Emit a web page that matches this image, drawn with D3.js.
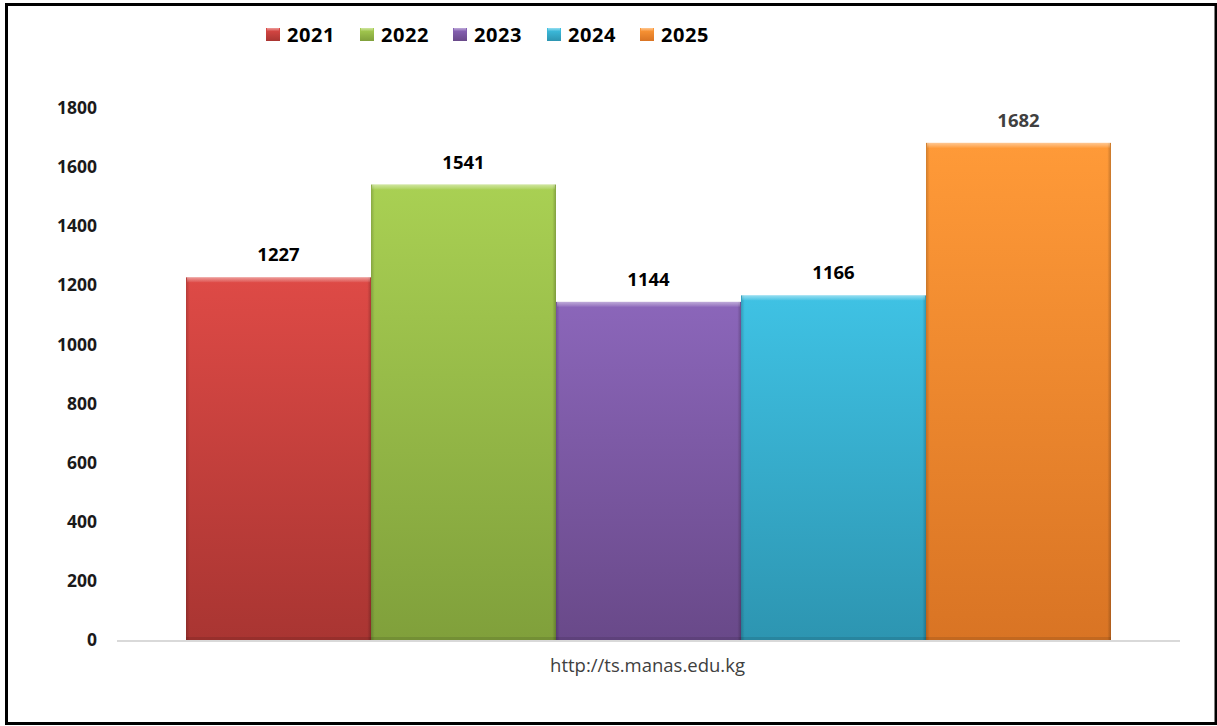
<!DOCTYPE html>
<html>
<head>
<meta charset="utf-8">
<script src="https://cdn.jsdelivr.net/npm/d3@7"></script>
<style>
  html, body { margin: 0; padding: 0; background: #fff; }
  svg { display: block; }
</style>
</head>
<body>
<svg id="chart" width="1217" height="726"></svg>
<script>
const years = ["2021", "2022", "2023", "2024", "2025"];
const values = [1227, 1541, 1144, 1166, 1682];
const topColors = ["#de4a46", "#a9d053", "#8b66ba", "#3fc2e4", "#ff9a38"];
const bottomColors = ["#a93532", "#80a03b", "#694989", "#2d95b1", "#d97424"];
const yTicks = [0, 200, 400, 600, 800, 1000, 1200, 1400, 1600, 1800];
const sourceText = "http://ts.manas.edu.kg";

const svg = d3.select("#chart");
const W = 1217, H = 726;
svg.append("rect").attr("width", W).attr("height", H).attr("fill", "#fff");

const defs = svg.append("defs");
years.forEach((y, i) => {
  const g = defs.append("linearGradient").attr("id", "grad" + i)
    .attr("x1", 0).attr("y1", 0).attr("x2", 0).attr("y2", 1);
  g.append("stop").attr("offset", "0%").attr("stop-color", topColors[i]);
  g.append("stop").attr("offset", "100%").attr("stop-color", bottomColors[i]);
  const s = defs.append("linearGradient").attr("id", "side" + i)
    .attr("x1", 0).attr("y1", 0).attr("x2", 1).attr("y2", 0);
  s.append("stop").attr("offset", "0%").attr("stop-color", "#000").attr("stop-opacity", 0.18);
  s.append("stop").attr("offset", "2%").attr("stop-color", "#000").attr("stop-opacity", 0);
  s.append("stop").attr("offset", "98%").attr("stop-color", "#000").attr("stop-opacity", 0);
  s.append("stop").attr("offset", "100%").attr("stop-color", "#000").attr("stop-opacity", 0.22);
});
const bev = defs.append("linearGradient").attr("id", "bevel")
  .attr("x1", 0).attr("y1", 0).attr("x2", 0).attr("y2", 1);
bev.append("stop").attr("offset", "0%").attr("stop-color", "#fff").attr("stop-opacity", 0.45);
bev.append("stop").attr("offset", "100%").attr("stop-color", "#fff").attr("stop-opacity", 0.05);

// scales
const x = d3.scaleBand().domain(years).range([117, 1180]).paddingInner(0).paddingOuter(0.373);
const y = d3.scaleLinear().domain([0, 1800]).range([640, 108]);

// y axis (labels only)
const yAxis = d3.axisLeft(y).tickValues(yTicks).tickSize(0).tickPadding(0).tickFormat(d3.format("d"));
const yg = svg.append("g").attr("transform", "translate(97,0)").call(yAxis);
yg.select(".domain").remove();
yg.selectAll("text")
  .attr("font-family", "'Open Sans', sans-serif")
  .attr("font-weight", "bold")
  .attr("font-size", 17.5)
  .attr("fill", "#1a1a1a");

// baseline
svg.append("line")
  .attr("x1", x.range()[0]).attr("x2", x.range()[1])
  .attr("y1", y(0) + 1).attr("y2", y(0) + 1)
  .attr("stroke", "#d9d9d9").attr("stroke-width", 2);

// bars
const bars = svg.append("g");
years.forEach((yr, i) => {
  const bx = x(yr), bw = x.bandwidth(), by = y(values[i]), bh = y(0) - y(values[i]);
  bars.append("rect").attr("x", bx).attr("y", by).attr("width", bw).attr("height", bh)
    .attr("fill", `url(#grad${i})`);
  bars.append("rect").attr("x", bx).attr("y", by).attr("width", bw).attr("height", bh)
    .attr("fill", `url(#side${i})`);
  bars.append("rect").attr("x", bx + 1).attr("y", by).attr("width", bw - 2).attr("height", 5)
    .attr("fill", "url(#bevel)");
  bars.append("rect").attr("x", bx).attr("y", y(0) - 3).attr("width", bw).attr("height", 3)
    .attr("fill", "#000").attr("opacity", 0.1);
});

// data labels
svg.append("g").selectAll("text").data(years).join("text")
  .attr("x", d => x(d) + x.bandwidth() / 2)
  .attr("y", (d, i) => y(values[i]) - 16)
  .attr("text-anchor", "middle")
  .attr("font-family", "'Open Sans', sans-serif")
  .attr("font-weight", "bold")
  .attr("font-size", 18.5)
  .attr("fill", (d, i) => i === 4 ? "#404040" : "#000")
  .text((d, i) => values[i]);

// legend
const legend = svg.append("g");
const legendX = [266, 360, 453, 547, 640];
years.forEach((yr, i) => {
  legend.append("rect").attr("x", legendX[i]).attr("y", 28).attr("width", 14).attr("height", 13)
    .attr("fill", `url(#grad${i})`);
  legend.append("rect").attr("x", legendX[i] + 1).attr("y", 28).attr("width", 12).attr("height", 3)
    .attr("fill", "url(#bevel)");
  legend.append("text").attr("x", legendX[i] + 21).attr("y", 42)
    .attr("font-family", "'Open Sans', sans-serif")
    .attr("font-weight", "bold")
    .attr("font-size", 20)
    .attr("letter-spacing", 0.6)
    .attr("fill", "#000")
    .text(yr);
});

// source text
svg.append("text")
  .attr("x", (x.range()[0] + x.range()[1]) / 2 - 1)
  .attr("y", 672)
  .attr("text-anchor", "middle")
  .attr("font-family", "'Open Sans', sans-serif")
  .attr("font-size", 18.5)
  .attr("fill", "#404040")
  .text(sourceText);

// frame
svg.append("rect").attr("x", 6.5).attr("y", 4.5).attr("width", 1209.5).attr("height", 719)
  .attr("fill", "none").attr("stroke", "#000").attr("stroke-width", 3);
</script>
</body>
</html>
